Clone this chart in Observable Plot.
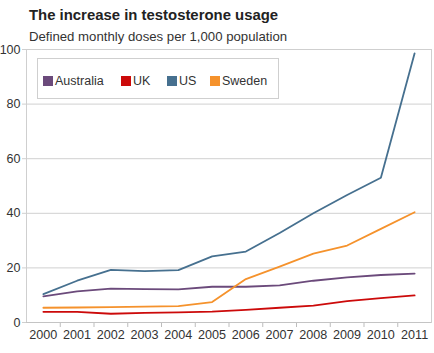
<!DOCTYPE html>
<html>
<head>
<meta charset="utf-8">
<script src="https://cdn.jsdelivr.net/npm/d3@7"></script>
<script src="https://cdn.jsdelivr.net/npm/@observablehq/plot@0.6"></script>
<style>
  html, body { margin: 0; padding: 0; background: #fff; }
  #wrap { position: relative; width: 434px; height: 353px; font-family: "Liberation Sans", Arial, sans-serif; }
  #title { position: absolute; left: 29px; top: 7px; font-size: 14.9px; font-weight: bold; color: #222; white-space: nowrap; }
  #subtitle { position: absolute; left: 29px; top: 29px; font-size: 13.2px; color: #333; white-space: nowrap; }
  #legend { position: absolute; left: 37px; top: 58px; width: 242px; height: 41px; border: 1px solid #cfcfcf; background: #fff; box-sizing: border-box; }
  .item { position: absolute; top: 16px; font-size: 12.5px; color: #333; line-height: 12px; white-space: nowrap; }
  .sw { display: inline-block; width: 10px; height: 10px; vertical-align: -1px; margin-right: 2px; }
  #chart { position: absolute; left: 0; top: 0; }
</style>
</head>
<body>
<div id="wrap">
  <div id="chart"></div>
  <div id="title"></div>
  <div id="subtitle"></div>
  <div id="legend"></div>
</div>
<script>
const titleText = "The increase in testosterone usage";
const subtitleText = "Defined monthly doses per 1,000 population";
const years = [2000, 2001, 2002, 2003, 2004, 2005, 2006, 2007, 2008, 2009, 2010, 2011];
const seriesNames = ["Australia", "UK", "US", "Sweden"];
const seriesColors = ["#6b4a7b", "#cc0a0a", "#46708f", "#f5922c"];
const australia = [9.6, 11.4, 12.4, 12.2, 12.1, 13.1, 13.1, 13.6, 15.3, 16.5, 17.4, 17.9];
const uk = [3.9, 3.9, 3.2, 3.5, 3.7, 4.0, 4.6, 5.4, 6.2, 7.8, 8.9, 9.9];
const us = [10.4, 15.3, 19.3, 18.8, 19.2, 24.2, 26.0, 32.8, 40.0, 46.7, 53.0, 98.6];
const sweden = [5.4, 5.5, 5.6, 5.8, 6.0, 7.5, 15.9, 20.5, 25.2, 28.2, 34.3, 40.4];
const yTicks = [0, 20, 40, 60, 80, 100];
const gridTicks = [20, 40, 60, 80];

const seriesValues = [australia, uk, us, sweden];
const rows = [];
seriesNames.forEach((name, i) => {
  years.forEach((yr, j) => rows.push({series: name, year: yr, value: seriesValues[i][j]}));
});
const boundaries = years.slice(0, -1).map(y => y + 0.5);

document.getElementById("title").textContent = titleText;
document.getElementById("subtitle").textContent = subtitleText;

const legendX = [5, 83, 129, 172];
const legend = document.getElementById("legend");
seriesNames.forEach((name, i) => {
  const it = document.createElement("div");
  it.className = "item";
  it.style.left = legendX[i] + "px";
  const sw = document.createElement("span");
  sw.className = "sw";
  sw.style.background = seriesColors[i];
  it.appendChild(sw);
  it.appendChild(document.createTextNode(name));
  legend.appendChild(it);
});

const chart = Plot.plot({
  width: 434,
  height: 353,
  marginTop: 49,
  marginBottom: 31,
  marginLeft: 26,
  marginRight: 3,
  style: {fontFamily: "'Liberation Sans', Arial, sans-serif", fontSize: "12.5px", color: "#333", background: "transparent"},
  x: {domain: [years[0] - 0.5, years[years.length - 1] + 0.5]},
  y: {domain: [0, 100]},
  color: {domain: seriesNames, range: seriesColors},
  marks: [
    Plot.ruleY(gridTicks, {stroke: "#d0d0d0", strokeWidth: 1}),
    Plot.frame({stroke: "#cfcfcf"}),
    Plot.axisY({ticks: yTicks, tickSize: 4, tickPadding: 2, label: null, stroke: "#cfcfcf", tickFormat: d => String(d), fontSize: "12.5px"}),
    Plot.axisX({ticks: years, tickSize: 0, tickPadding: 8, label: null, tickFormat: d => String(d), fontSize: "12.6px"}),
    Plot.axisX({ticks: boundaries, tickSize: 5, label: null, tickFormat: () => "", stroke: "#bdbdbd"}),
    Plot.ruleY([0], {stroke: "#c4c4c4"}),
    Plot.line(rows, {x: "year", y: "value", z: "series", stroke: "series", strokeWidth: 1.8})
  ]
});
document.getElementById("chart").appendChild(chart);
</script>
</body>
</html>
